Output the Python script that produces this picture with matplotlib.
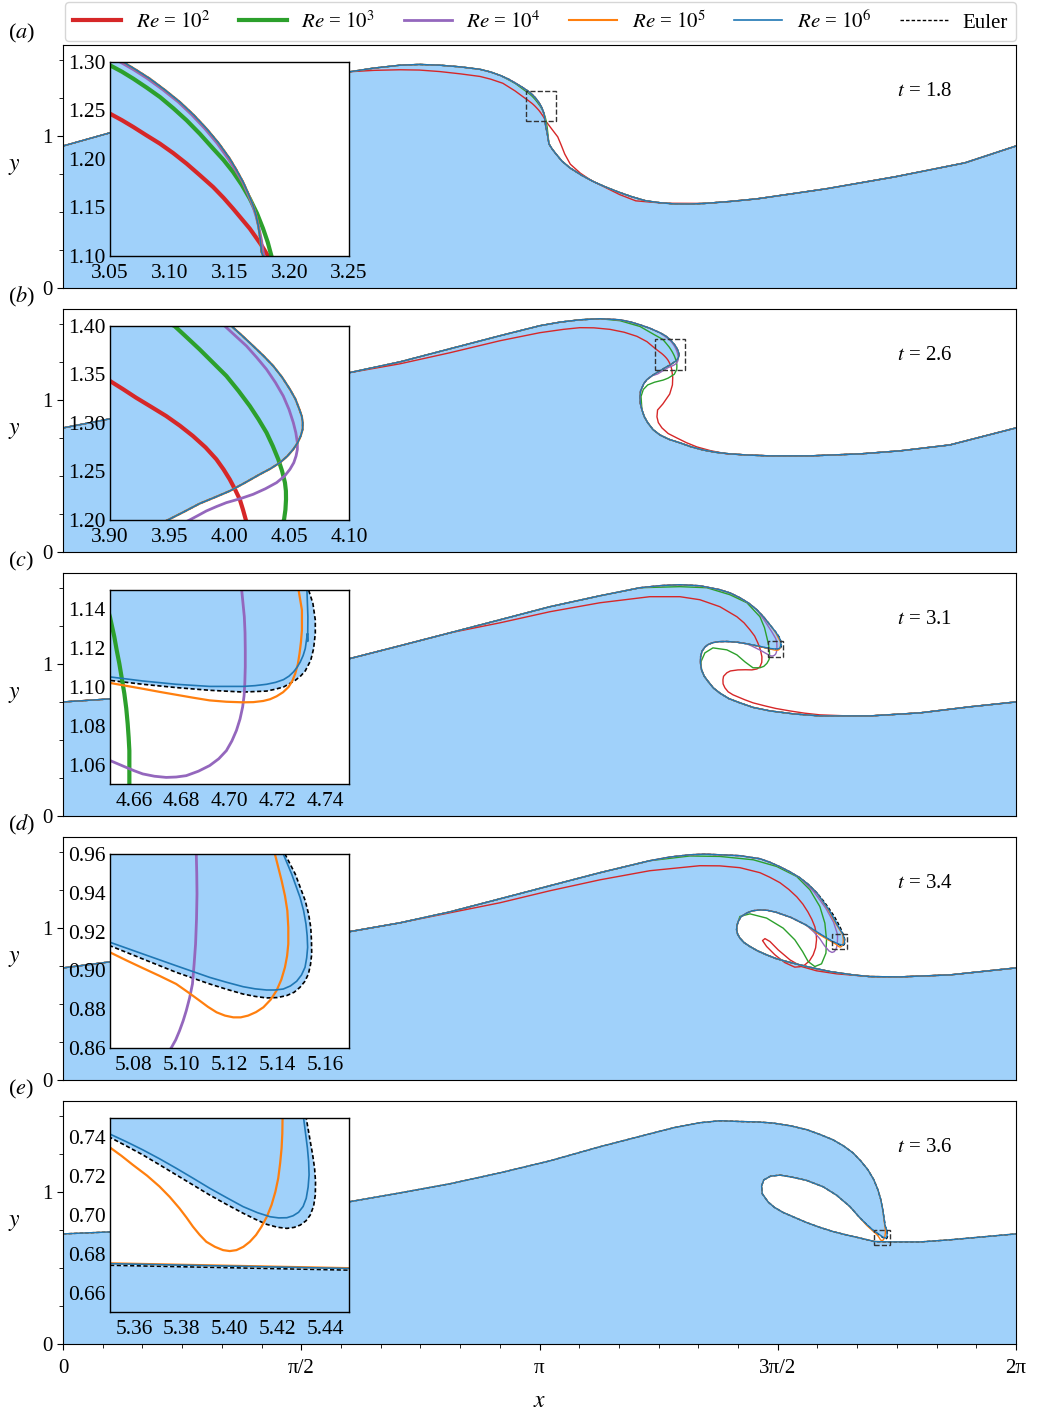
import numpy as np
import matplotlib
matplotlib.use("Agg")
import matplotlib.pyplot as plt
from matplotlib.lines import Line2D
from matplotlib.patches import Rectangle
from matplotlib.ticker import FixedLocator, MultipleLocator

plt.rcParams['font.family'] = ['Liberation Serif', 'DejaVu Serif']
plt.rcParams['mathtext.fontset'] = 'stix'

# ---------------- data ----------------
times = [1.8, 2.6, 3.1, 3.4, 3.6]
panel_tags = ['a', 'b', 'c', 'd', 'e']
re_labels = [r'$Re$ = $10^2$', r'$Re$ = $10^3$', r'$Re$ = $10^4$', r'$Re$ = $10^5$', r'$Re$ = $10^6$', 'Euler']
x_tick_labels = ['0', 'π/2', 'π', '3π/2', '2π']

# panel (a), t = 1.8
a_euler_x = [0.000, 0.310, 0.903, 1.562, 1.892, 2.050, 2.222, 2.350, 2.485, 2.620, 2.749, 2.820, 2.887, 2.940,
             2.980, 3.020, 3.0611, 3.072, 3.0834, 3.096, 3.1085, 3.120, 3.1308, 3.141, 3.1503, 3.156, 3.1614,
             3.1658, 3.1698, 3.1722, 3.1740, 3.1756, 3.1768, 3.1781,
             3.183, 3.191, 3.204, 3.225, 3.250, 3.290, 3.342, 3.420, 3.500, 3.580, 3.659, 3.750, 3.843, 3.940,
             4.028, 4.130, 4.232, 4.400, 4.575, 5.030, 5.485, 5.946, 6.283]
a_euler_y = [0.935, 1.022, 1.173, 1.338, 1.424, 1.448, 1.467, 1.472, 1.467, 1.456, 1.440, 1.422, 1.398, 1.374,
             1.350, 1.327, 1.300, 1.2918, 1.2828, 1.2712, 1.2588, 1.2455, 1.2313, 1.2163, 1.2003, 1.1885, 1.1763,
             1.1643, 1.1522, 1.142, 1.1316, 1.118, 1.1041, 1.100,
             1.060, 1.028, 0.949, 0.915, 0.883, 0.835, 0.791, 0.742, 0.699, 0.664, 0.633, 0.601, 0.574, 0.561,
             0.554, 0.553, 0.557, 0.570, 0.587, 0.653, 0.732, 0.824, 0.935]
a_purple_x = [2.887, 2.980, 3.0584, 3.0695, 3.0806, 3.094, 3.1071, 3.1185, 3.1294, 3.1396, 3.1489, 3.155,
              3.1609, 3.1656, 3.1698, 3.1726, 3.1748, 3.1768, 3.1781, 3.179, 3.186, 3.191]
a_purple_y = [1.398, 1.353, 1.300, 1.2922, 1.2835, 1.2716, 1.2588, 1.2455, 1.2313, 1.2163, 1.2003, 1.1885,
              1.1763, 1.1635, 1.1505, 1.1395, 1.1282, 1.116, 1.1041, 1.100, 1.060, 1.028]
a_green_x = [2.887, 2.980, 3.050, 3.060, 3.0695, 3.0807, 3.0918, 3.103, 3.1141, 3.1253, 3.1363, 3.145, 3.1530,
             3.1603, 3.1670, 3.173, 3.1781, 3.182, 3.1851, 3.192, 3.204]
a_green_y = [1.398, 1.348, 1.2966, 1.290, 1.2828, 1.2736, 1.2639, 1.2523, 1.2399, 1.2258, 1.2107, 1.199, 1.1866,
             1.1733, 1.1591, 1.144, 1.1282, 1.1142, 1.100, 1.060, 0.949]
a_red_x = [1.892, 2.050, 2.222, 2.350, 2.485, 2.620, 2.749, 2.820, 2.900, 2.980, 3.050, 3.060, 3.0695, 3.080,
           3.0918, 3.103, 3.1141, 3.125, 3.1363, 3.145, 3.1530, 3.160, 3.1670, 3.172, 3.1768, 3.1823, 3.220,
           3.262, 3.285, 3.308, 3.345, 3.411, 3.480, 3.570, 3.670, 3.776, 3.880, 3.981, 4.232]
a_red_y = [1.424, 1.433, 1.437, 1.435, 1.425, 1.410, 1.393, 1.375, 1.348, 1.298, 1.2467, 1.240, 1.233, 1.2248,
           1.2158, 1.206, 1.1952, 1.1835, 1.1711, 1.160, 1.1488, 1.1385, 1.1282, 1.1195, 1.111, 1.100, 1.050,
           0.995, 0.940, 0.882, 0.815, 0.756, 0.710, 0.665, 0.615, 0.574, 0.565, 0.558, 0.557]

# panel (b), t = 2.6
b_euler_x = [0.000, 0.310, 0.903, 1.562, 1.885, 2.222, 2.551, 2.881, 3.144, 3.280, 3.408, 3.540, 3.672, 3.740,
             3.804, 3.870, 3.935, 3.970, 4.0016, 4.0108, 4.0198, 4.0284, 4.0366, 4.044, 4.0506, 4.0552, 4.0585,
             4.0605, 4.0613, 4.0612, 4.0596, 4.0570, 4.0534, 4.0484, 4.0422, 4.034, 4.0254, 4.0128, 4.0002,
             3.9876, 3.975, 3.9617, 3.9484, 3.910, 3.883, 3.850, 3.830, 3.808, 3.804, 3.806, 3.817, 3.833,
             3.856, 3.890, 3.935, 3.995, 4.067, 4.140, 4.219, 4.300, 4.397, 4.520, 4.661, 4.924, 5.254,
             5.518, 5.847, 6.283]
b_euler_y = [0.817, 0.877, 0.995, 1.121, 1.180, 1.252, 1.338, 1.424, 1.490, 1.514, 1.529, 1.536, 1.529, 1.515,
             1.496, 1.473, 1.444, 1.425, 1.400, 1.3898, 1.3794, 1.3693, 1.3588, 1.3472, 1.3347, 1.3246, 1.3141,
             1.307, 1.3004, 1.2935, 1.2866, 1.2796, 1.2729, 1.2658, 1.2591, 1.2527, 1.2471, 1.2383, 1.2299,
             1.2233, 1.2169, 1.2083, 1.200, 1.178, 1.160, 1.135, 1.110, 1.060, 1.022, 0.980, 0.936, 0.890,
             0.850, 0.806, 0.771, 0.742, 0.719, 0.693, 0.672, 0.657, 0.646, 0.638, 0.633, 0.633, 0.646,
             0.666, 0.705, 0.817]
b_purple_x = [3.935, 3.975, 3.996, 4.005, 4.0142, 4.0228, 4.031, 4.0384, 4.045, 4.0498, 4.0534, 4.0555, 4.0568,
              4.0568, 4.0557, 4.0538, 4.0506, 4.046, 4.0394, 4.030, 4.0198, 4.0088, 3.9974, 3.989, 3.9806,
              3.9736, 3.9666, 3.920, 3.883]
b_purple_y = [1.444, 1.415, 1.400, 1.3898, 1.3794, 1.3675, 1.3553, 1.3418, 1.3278, 1.314, 1.3004, 1.290, 1.2797,
              1.2728, 1.266, 1.2591, 1.2523, 1.2452, 1.2385, 1.2322, 1.2265, 1.2219, 1.2179, 1.2138, 1.2093,
              1.2046, 1.200, 1.172, 1.160]
b_green_x = [3.540, 3.672, 3.804, 3.900, 3.954, 3.9645, 3.975, 3.9862, 3.9974, 4.0076, 4.017, 4.0243, 4.031,
             4.0362, 4.0408, 4.044, 4.0464, 4.0472, 4.0473, 4.0468, 4.0456,
             4.030, 3.990, 3.957, 3.900, 3.855, 3.826, 3.811, 3.817]
b_green_y = [1.536, 1.523, 1.485, 1.430, 1.400, 1.388, 1.3759, 1.3622, 1.3485, 1.333, 1.3175, 1.3038, 1.290,
             1.2763, 1.2626, 1.2505, 1.2385, 1.230, 1.2213, 1.2106, 1.200,
             1.170, 1.145, 1.132, 1.118, 1.100, 1.070, 1.024, 0.936]
b_red_x = [1.885, 2.221, 2.551, 2.881, 3.144, 3.300, 3.408, 3.500, 3.606, 3.700, 3.784, 3.850, 3.900, 3.911,
           3.9218, 3.9344, 3.947, 3.9585, 3.9694, 3.980, 3.989, 3.995, 4.0002, 4.0046, 4.0086, 4.0113, 4.0137,
           4.020, 4.018, 4.000, 3.955, 3.935, 3.920, 3.916, 3.925, 3.949, 3.990, 4.047, 4.110, 4.179, 4.270,
           4.377, 4.500, 4.661]
b_red_y = [1.180, 1.239, 1.312, 1.391, 1.444, 1.466, 1.477, 1.476, 1.466, 1.447, 1.420, 1.385, 1.3433, 1.3348,
           1.3261, 1.3167, 1.3072, 1.2972, 1.2866, 1.2748, 1.2626, 1.2522, 1.2419, 1.2316, 1.2213, 1.2106, 1.200,
           1.150, 1.100, 1.040, 0.975, 0.952, 0.935, 0.890, 0.852, 0.817, 0.780, 0.751, 0.720, 0.692, 0.667,
           0.646, 0.640, 0.633]

# panel (c), t = 3.1
c_euler_x = [0.000, 0.310, 0.903, 1.562, 1.885, 2.222, 2.551, 2.881, 3.210, 3.540, 3.804, 3.940, 4.067, 4.199,
             4.331, 4.400, 4.463, 4.520, 4.575, 4.620, 4.661, 4.700, 4.724, 4.7331, 4.7349, 4.7359, 4.7359,
             4.7352, 4.7340, 4.7317, 4.7298, 4.7275, 4.7226, 4.7190, 4.7155, 4.7057, 4.6917, 4.6777, 4.6637,
             4.650, 4.600,
             4.507, 4.440, 4.375, 4.325, 4.287, 4.255, 4.232, 4.213, 4.204, 4.203, 4.210, 4.228, 4.254, 4.288,
             4.331, 4.390, 4.463, 4.550, 4.661, 4.820, 4.990, 5.320, 5.649, 5.979, 6.283]
c_euler_y = [0.751, 0.771, 0.844, 0.960, 1.035, 1.121, 1.206, 1.292, 1.378, 1.450, 1.503, 1.517, 1.523, 1.516,
             1.490, 1.468, 1.437, 1.402, 1.358, 1.310, 1.259, 1.210, 1.175, 1.150, 1.1431, 1.1345, 1.1276,
             1.1198, 1.1138, 1.1083, 1.1057, 1.1034, 1.100, 1.0988, 1.0979, 1.0974, 1.0983, 1.0997, 1.1014,
             1.1034, 1.115,
             1.134, 1.145, 1.149, 1.148, 1.142, 1.130, 1.112, 1.085, 1.050, 1.005, 0.962, 0.920, 0.885, 0.843,
             0.809, 0.773, 0.745, 0.715, 0.692, 0.672, 0.659, 0.659, 0.679, 0.719, 0.751]
c_blue_x = [4.661, 4.700, 4.723, 4.7324, 4.7328, 4.7327, 4.7326, 4.7317, 4.7308, 4.7296, 4.7283, 4.7268, 4.7249,
            4.7226, 4.7193, 4.7155, 4.7107, 4.7057, 4.6917, 4.6777, 4.6637, 4.650, 4.600, 4.507]
c_blue_y = [1.259, 1.210, 1.175, 1.150, 1.1362, 1.1235, 1.1276, 1.1198, 1.1162, 1.1129, 1.1102, 1.1078, 1.1056,
            1.1038, 1.1024, 1.1014, 1.1007, 1.1003, 1.1003, 1.1014, 1.1031, 1.1052, 1.116, 1.134]
c_orange_x = [4.661, 4.700, 4.718, 4.7289, 4.7303, 4.7303, 4.7299, 4.7293, 4.7286, 4.7275, 4.7263, 4.7247,
              4.7224, 4.7197, 4.7170, 4.7141, 4.7100, 4.7057, 4.6987, 4.6917, 4.6847, 4.6777, 4.6707, 4.6637,
              4.6568, 4.650, 4.600, 4.507]
c_orange_y = [1.259, 1.205, 1.170, 1.150, 1.1397, 1.1293, 1.1232, 1.1172, 1.1118, 1.1069, 1.1032, 1.100,
              1.0973, 1.0952, 1.0937, 1.0928, 1.0922, 1.0921, 1.0924, 1.0931, 1.0945, 1.0960, 1.0975, 1.0991,
              1.1006, 1.1021, 1.114, 1.134]
c_purple_x = [4.575, 4.630, 4.675, 4.698, 4.7051, 4.7062, 4.7065, 4.7066, 4.7066, 4.7064, 4.7061, 4.7055,
              4.7044, 4.7029, 4.7010, 4.6987, 4.6955, 4.6917, 4.6870, 4.6819, 4.6777, 4.6735, 4.6686, 4.6637,
              4.6602, 4.6567, 4.650, 4.600, 4.540, 4.507]
c_purple_y = [1.358, 1.280, 1.210, 1.170, 1.150, 1.1362, 1.128, 1.119, 1.1105, 1.1017, 1.0955, 1.0897,
              1.0835, 1.0776, 1.0722, 1.0672, 1.0630, 1.0595, 1.0566, 1.0543, 1.0536, 1.0534, 1.0540, 1.0552,
              1.0568, 1.0586, 1.0621, 1.090, 1.120, 1.134]
c_green_x = [3.804, 4.067, 4.245, 4.397, 4.509, 4.595, 4.625, 4.642, 4.650, 4.6518, 4.6528, 4.6539, 4.655,
             4.656, 4.6568, 4.6574, 4.6578, 4.6581, 4.6581, 4.655, 4.641, 4.620, 4.595, 4.549, 4.496, 4.443,
             4.377, 4.285, 4.232, 4.206, 4.210]
c_green_y = [1.503, 1.510, 1.503, 1.457, 1.404, 1.312, 1.240, 1.170, 1.136, 1.1259, 1.119, 1.1121, 1.104,
             1.0966, 1.089, 1.081, 1.074, 1.0672, 1.050, 1.030, 1.005, 0.985, 0.976, 0.976, 1.015, 1.061,
             1.094, 1.107, 1.074, 1.015, 0.962]
c_red_x = [2.551, 2.881, 3.210, 3.540, 3.869, 4.067, 4.199, 4.331, 4.443, 4.490, 4.529, 4.560, 4.581, 4.598,
           4.608, 4.607, 4.595, 4.575, 4.542, 4.500, 4.450, 4.400, 4.377, 4.355, 4.351, 4.352, 4.364, 4.385,
           4.417, 4.496, 4.550, 4.628, 4.700, 4.792, 4.890, 4.990, 5.150, 5.320]
c_red_y = [1.206, 1.272, 1.345, 1.404, 1.444, 1.444, 1.424, 1.378, 1.312, 1.272, 1.226, 1.185, 1.140, 1.095,
           1.048, 1.012, 0.982, 0.968, 0.962, 0.963, 0.962, 0.955, 0.943, 0.920, 0.897, 0.870, 0.844, 0.818,
           0.798, 0.765, 0.745, 0.725, 0.708, 0.692, 0.677, 0.666, 0.660, 0.659]

# panel (d), t = 3.4
d_euler_x = [0.000, 0.310, 0.903, 1.562, 1.885, 2.222, 2.551, 2.881, 3.210, 3.540, 3.869, 4.000, 4.133, 4.230,
             4.331, 4.463, 4.595, 4.660, 4.727, 4.790, 4.858, 4.915, 4.970, 5.015, 5.056, 5.085, 5.109, 5.128,
             5.1432, 5.1475, 5.1517, 5.1531, 5.1540, 5.1543, 5.1544, 5.1539, 5.1530, 5.1515, 5.1495, 5.1470,
             5.1439, 5.1400, 5.1355, 5.1307, 5.1257, 5.1187, 5.1117, 5.0977,
             5.0837, 5.070, 4.990, 4.900, 4.800, 4.700, 4.645, 4.595, 4.545, 4.507, 4.470, 4.452, 4.443,
             4.441, 4.448, 4.463, 4.490, 4.529, 4.580, 4.639, 4.700, 4.771, 4.903, 5.056, 5.209, 5.320,
             5.518, 5.847, 6.283]
d_euler_y = [0.738, 0.778, 0.857, 0.936, 0.976, 1.035, 1.107, 1.193, 1.279, 1.365, 1.444, 1.468, 1.483, 1.487,
             1.483, 1.477, 1.457, 1.434, 1.404, 1.372, 1.332, 1.287, 1.233, 1.178, 1.121, 1.078, 1.035, 0.997,
             0.960, 0.9497, 0.9359, 0.929, 0.9222, 0.9153, 0.9085, 0.9030, 0.8981, 0.8943, 0.8913, 0.8887,
             0.887, 0.8860, 0.8858, 0.8866, 0.8878, 0.8903, 0.893, 0.899,
             0.9059, 0.9127, 0.960, 1.020, 1.070, 1.105, 1.117, 1.120, 1.114, 1.099, 1.075, 1.044, 1.015,
             0.989, 0.960, 0.934, 0.905, 0.879, 0.850, 0.824, 0.800, 0.780, 0.747, 0.714, 0.692, 0.681,
             0.679, 0.692, 0.738]
d_blue_x = [4.970, 5.050, 5.100, 5.1425, 5.1460, 5.1495, 5.1510, 5.1520, 5.1525, 5.1527, 5.1523, 5.1516, 5.1501,
            5.1481, 5.1455, 5.1425, 5.1390, 5.1355, 5.1307, 5.1257, 5.1187, 5.1117, 5.0977, 5.0837, 5.070,
            4.990, 4.900]
d_blue_y = [1.233, 1.120, 1.030, 0.960, 0.9497, 0.9377, 0.9308, 0.9239, 0.9178, 0.9119, 0.9065, 0.9016, 0.8976,
            0.8944, 0.8920, 0.8904, 0.8899, 0.8899, 0.8905, 0.8916, 0.8939, 0.8964, 0.9024, 0.9085, 0.9145,
            0.963, 1.020]
d_orange_x = [4.970, 5.040, 5.095, 5.139, 5.1418, 5.1432, 5.1442, 5.1446, 5.1446, 5.1441, 5.1432, 5.1417,
              5.1397, 5.1372, 5.1342, 5.1311, 5.1278, 5.1247, 5.1216, 5.1181, 5.1146, 5.1110, 5.1075, 5.1027,
              5.0977, 5.0907, 5.0837, 5.0768, 5.070, 4.990, 4.900]
d_orange_y = [1.233, 1.130, 1.030, 0.960, 0.9463, 0.9385, 0.9308, 0.9222, 0.9136, 0.9075, 0.9016, 0.8953,
              0.8896, 0.8849, 0.881, 0.8785, 0.8767, 0.8758, 0.8758, 0.8767, 0.8784, 0.8812, 0.8844, 0.8887,
              0.893, 0.8972, 0.9012, 0.9052, 0.9093, 0.955, 1.020]
d_purple_x = [4.858, 4.950, 5.030, 5.080, 5.1061, 5.1063, 5.1064, 5.1062, 5.1058, 5.1052, 5.1045, 5.1033,
              5.1019, 5.1006, 5.0991, 5.0975, 5.0956, 5.085, 5.070, 5.050, 5.020, 4.990, 4.950, 4.900]
d_purple_y = [1.332, 1.240, 1.130, 1.040, 0.960, 0.950, 0.9394, 0.9265, 0.9136, 0.9033, 0.893, 0.8858,
              0.8792, 0.8740, 0.8689, 0.8642, 0.860, 0.845, 0.840, 0.850, 0.885, 0.930, 0.975, 1.020]
d_green_x = [3.869, 4.133, 4.331, 4.551, 4.705, 4.837, 4.924, 4.990, 5.023, 5.034, 5.030, 5.001, 4.957, 4.913,
             4.876, 4.825, 4.748, 4.639, 4.529, 4.463, 4.452]
d_green_y = [1.444, 1.475, 1.472, 1.450, 1.406, 1.340, 1.253, 1.142, 1.033, 0.923, 0.835, 0.765, 0.747, 0.780,
             0.846, 0.923, 1.000, 1.066, 1.094, 1.077, 1.044]
d_red_x = [2.222, 2.551, 2.881, 3.210, 3.540, 3.869, 4.199, 4.330, 4.463, 4.595, 4.660, 4.727, 4.785, 4.838,
           4.878, 4.911, 4.937, 4.957, 4.966, 4.968, 4.962, 4.946, 4.922, 4.891, 4.860, 4.825, 4.759, 4.694,
           4.639, 4.612, 4.628, 4.661, 4.715, 4.793, 4.869, 4.968, 5.100, 5.320]
d_red_y = [1.035, 1.101, 1.167, 1.246, 1.318, 1.378, 1.411, 1.410, 1.398, 1.365, 1.335, 1.299, 1.255, 1.206,
           1.158, 1.107, 1.058, 1.009, 0.965, 0.923, 0.870, 0.824, 0.785, 0.758, 0.746, 0.743, 0.773, 0.824,
           0.879, 0.918, 0.931, 0.912, 0.857, 0.791, 0.747, 0.719, 0.699, 0.681]

# panel (e), t = 3.6
e_euler_x = [0.000, 0.310, 0.903, 1.562, 1.885, 2.222, 2.551, 2.881, 3.210, 3.540, 3.869, 4.030, 4.199, 4.331,
             4.463, 4.580, 4.680, 4.800, 4.905, 4.990, 5.076, 5.145, 5.208, 5.260, 5.307, 5.345, 5.373, 5.392,
             5.405, 5.422, 5.4321, 5.4338, 5.4348, 5.4356, 5.4360, 5.4359, 5.4352, 5.4338, 5.4320, 5.4296,
             5.4270, 5.4240, 5.4200, 5.4155, 5.4108, 5.4057, 5.3987, 5.3917, 5.3847,
             5.3777, 5.3707, 5.3637, 5.3568, 5.350, 5.300, 5.250, 5.188, 5.100, 5.012, 4.900, 4.800, 4.727,
             4.665, 4.620, 4.606, 4.610, 4.649, 4.690, 4.748, 4.820, 4.902, 4.990, 5.078, 5.170, 5.254, 5.350,
             5.450, 5.650, 5.847, 6.283]
e_euler_y = [0.725, 0.738, 0.804, 0.890, 0.936, 0.995, 1.055, 1.127, 1.206, 1.299, 1.384, 1.425, 1.457, 1.470,
             1.465, 1.462, 1.455, 1.436, 1.411, 1.380, 1.345, 1.305, 1.259, 1.205, 1.147, 1.083, 1.015, 0.950,
             0.883, 0.773, 0.750, 0.7379, 0.731, 0.7241, 0.7172, 0.7103, 0.7046, 0.700, 0.6970, 0.6948,
             0.6936, 0.6931, 0.6937, 0.6952, 0.6978, 0.7009, 0.7055, 0.7103, 0.7155,
             0.7207, 0.7259, 0.731, 0.7356, 0.740, 0.785, 0.835, 0.905, 0.980, 1.035, 1.078, 1.100, 1.112,
             1.105, 1.080, 1.040, 0.990, 0.935, 0.900, 0.866, 0.835, 0.800, 0.768, 0.740, 0.717, 0.698, 0.6741,
             0.6716, 0.672, 0.686, 0.725]
e_blue_x = [5.405, 5.420, 5.431, 5.4326, 5.4331, 5.4333, 5.4329, 5.4321, 5.4308, 5.4289, 5.4266, 5.4240, 5.4206,
            5.4170, 5.4117, 5.4057, 5.3987, 5.3917, 5.3847, 5.3777, 5.3707, 5.3637, 5.3568, 5.350, 5.300, 5.250]
e_blue_y = [0.883, 0.780, 0.750, 0.7345, 0.7276, 0.7207, 0.7144, 0.7086, 0.7044, 0.7014, 0.6996, 0.6986, 0.6985,
            0.6991, 0.7012, 0.7043, 0.7090, 0.7138, 0.7190, 0.7241, 0.7290, 0.7336, 0.7378, 0.7417, 0.786, 0.835]
e_blue_floor_x = [5.254, 5.350, 5.450, 5.650]
e_blue_floor_y = [0.698, 0.6749, 0.6724, 0.672]
e_orange_x = [5.405, 5.415, 5.4222, 5.4221, 5.4218, 5.4212, 5.4204, 5.4192, 5.4176, 5.4157, 5.4134, 5.4111,
              5.4085, 5.4058, 5.4029, 5.4001, 5.3973, 5.3939, 5.3903, 5.3875, 5.3847, 5.3820, 5.3791, 5.3750,
              5.3707, 5.3655, 5.3595, 5.3548, 5.350, 5.300, 5.250]
e_orange_y = [0.883, 0.800, 0.750, 0.742, 0.7345, 0.7268, 0.719, 0.712, 0.7052, 0.6993, 0.694, 0.6897,
              0.6862, 0.6836, 0.6819, 0.6814, 0.6819, 0.6836, 0.6862, 0.6898, 0.694, 0.6987, 0.7034, 0.7093,
              0.7147, 0.7203, 0.7259, 0.7305, 0.7348, 0.780, 0.835]
e_orange_floor_x = [5.254, 5.350, 5.450, 5.650]
e_orange_floor_y = [0.698, 0.6751, 0.6726, 0.672]

# inset windows and ticks
inset_xlims = [(3.05, 3.25), (3.90, 4.10), (4.65, 4.75), (5.07, 5.17), (5.35, 5.45)]
inset_ylims = [(1.10, 1.30), (1.20, 1.40), (1.05, 1.15), (0.86, 0.96), (0.65, 0.75)]
inset_xticks = [[3.05, 3.10, 3.15, 3.20, 3.25], [3.90, 3.95, 4.00, 4.05, 4.10],
                [4.66, 4.68, 4.70, 4.72, 4.74], [5.08, 5.10, 5.12, 5.14, 5.16],
                [5.36, 5.38, 5.40, 5.42, 5.44]]
inset_yticks = [[1.10, 1.15, 1.20, 1.25, 1.30], [1.20, 1.25, 1.30, 1.35, 1.40],
                [1.06, 1.08, 1.10, 1.12, 1.14], [0.86, 0.88, 0.90, 0.92, 0.94, 0.96],
                [0.66, 0.68, 0.70, 0.72, 0.74]]

# ---------------- helpers ----------------
def splice(bx, by, dx, dy):
    """Replace the stretch of the base curve between the first and last point of the deviation."""
    bx, by = np.asarray(bx, float), np.asarray(by, float)
    i0 = int(np.argmin(np.hypot(bx - dx[0], by - dy[0])))
    rest = np.hypot(bx[i0 + 1:] - dx[-1], by[i0 + 1:] - dy[-1])
    i1 = i0 + 1 + int(np.argmin(rest))
    return np.r_[bx[:i0], dx, bx[i1 + 1:]], np.r_[by[:i0], dy, by[i1 + 1:]]

def build(ex, ey, devs):
    x, y = np.asarray(ex, float), np.asarray(ey, float)
    for dx, dy in (devs or []):
        x, y = splice(x, y, dx, dy)
    return x, y

RED, GREEN, PURPLE, ORANGE, BLUE = '#d62728', '#2ca02c', '#9467bd', '#ff7f0e', '#1f77b4'
FILL = '#a0d1fa'
DASH = (0, (2.5, 1.5))

def series_for(ex, ey, red=None, green=None, purple=None, orange=None, blue=None, has_low=True):
    out = [((np.asarray(ex), np.asarray(ey)), 'k', DASH, 1.2)]
    if has_low:
        out.append((build(ex, ey, red), RED, '-', 3.0))
        out.append((build(ex, ey, green), GREEN, '-', 3.0))
        out.append((build(ex, ey, purple), PURPLE, '-', 2.0))
    out.append((build(ex, ey, orange), ORANGE, '-', 1.6))
    out.append((build(ex, ey, blue), BLUE, '-', 1.2))
    return out

panels = [
    (a_euler_x, a_euler_y, series_for(a_euler_x, a_euler_y, red=[(a_red_x, a_red_y)],
                                      green=[(a_green_x, a_green_y)], purple=[(a_purple_x, a_purple_y)])),
    (b_euler_x, b_euler_y, series_for(b_euler_x, b_euler_y, red=[(b_red_x, b_red_y)],
                                      green=[(b_green_x, b_green_y)], purple=[(b_purple_x, b_purple_y)])),
    (c_euler_x, c_euler_y, series_for(c_euler_x, c_euler_y, red=[(c_red_x, c_red_y)],
                                      green=[(c_green_x, c_green_y)], purple=[(c_purple_x, c_purple_y)],
                                      orange=[(c_orange_x, c_orange_y)], blue=[(c_blue_x, c_blue_y)])),
    (d_euler_x, d_euler_y, series_for(d_euler_x, d_euler_y, red=[(d_red_x, d_red_y)],
                                      green=[(d_green_x, d_green_y)], purple=[(d_purple_x, d_purple_y)],
                                      orange=[(d_orange_x, d_orange_y)], blue=[(d_blue_x, d_blue_y)])),
    (e_euler_x, e_euler_y, series_for(e_euler_x, e_euler_y,
                                      orange=[(e_orange_x, e_orange_y), (e_orange_floor_x, e_orange_floor_y)],
                                      blue=[(e_blue_x, e_blue_y), (e_blue_floor_x, e_blue_floor_y)],
                                      has_low=False)),
]

# ---------------- figure ----------------
W, H = 1039, 1413
fig = plt.figure(figsize=(W / 100, H / 100), dpi=100)
left, width, height = 63 / W, 953 / W, 243 / H
bottoms_px = [288, 552, 816, 1080, 1344]
TWO_PI = 2 * np.pi

for k, (ex, ey, series) in enumerate(panels):
    ax = fig.add_axes([left, 1 - bottoms_px[k] / H, width, height])
    ax.set_xlim(0, TWO_PI)
    ax.set_ylim(0, 1.6)
    poly_x = np.r_[ex, TWO_PI, 0.0]
    poly_y = np.r_[ey, 0.0, 0.0]
    ax.fill(poly_x, poly_y, color=FILL, lw=0, zorder=1)
    for (sx, sy), col, ls, lw in series:
        ax.plot(sx, sy, color=col, ls=ls, lw=1.0, zorder=2)
    xl, yl = inset_xlims[k], inset_ylims[k]
    ax.add_patch(Rectangle((xl[0], yl[0]), xl[1] - xl[0], yl[1] - yl[0], fill=False,
                           ls='--', lw=1.0, ec='0.2', zorder=4))
    # axes styling
    ax.yaxis.set_major_locator(FixedLocator([0, 1]))
    ax.set_yticklabels(['0', '1'])
    ax.yaxis.set_minor_locator(MultipleLocator(0.25))
    ax.xaxis.set_major_locator(FixedLocator([0, np.pi / 2, np.pi, 1.5 * np.pi, TWO_PI]))
    ax.xaxis.set_minor_locator(MultipleLocator(np.pi / 12))
    ax.tick_params(axis='both', which='major', labelsize=15, length=4, direction='out')
    ax.tick_params(axis='both', which='minor', length=3, direction='out')
    if k < 4:
        ax.tick_params(axis='x', which='both', length=0, labelbottom=False)
    else:
        ax.set_xticklabels(x_tick_labels)
        ax.tick_params(axis='x', which='major', pad=7)
        ax.set_xlabel('$x$', fontsize=17, va='center')
        ax.xaxis.set_label_coords(0.5, -0.235)
    ax.set_ylabel('$y$', fontsize=17, rotation=0, va='center', ha='center')
    ax.yaxis.set_label_coords(-0.051, 0.5)
    ax.text(0.875, 0.81, '$t$ = %.1f' % times[k], transform=ax.transAxes, fontsize=15,
            ha='left', va='center')
    fig.text(8 / W, 1 - (bottoms_px[k] - 255) / H, '($%s$)' % panel_tags[k], fontsize=16,
             ha='left', va='center')

    # inset
    axi = ax.inset_axes([47 / 953, 32 / 243, 239 / 953, 194 / 243])
    axi.set_facecolor('white')
    axi.fill(poly_x, poly_y, color=FILL, lw=0, zorder=1)
    for (sx, sy), col, ls, lw in series:
        axi.plot(sx, sy, color=col, ls=ls, lw=lw, zorder=2)
    axi.set_xlim(*xl)
    axi.set_ylim(*yl)
    axi.set_xticks(inset_xticks[k])
    axi.set_yticks(inset_yticks[k])
    axi.set_xticklabels(['%.2f' % v for v in inset_xticks[k]])
    axi.set_yticklabels(['%.2f' % v for v in inset_yticks[k]])
    axi.tick_params(labelsize=15.5, length=0)
    axi.tick_params(axis='x', pad=6)
    axi.tick_params(axis='y', pad=3)
    for sp in axi.spines.values():
        sp.set_linewidth(1.0)

# legend
handles = [Line2D([], [], color=RED, lw=3), Line2D([], [], color=GREEN, lw=3),
           Line2D([], [], color=PURPLE, lw=2), Line2D([], [], color=ORANGE, lw=1.5),
           Line2D([], [], color=BLUE, lw=1.2), Line2D([], [], color='k', lw=1, ls=DASH)]
fig.legend(handles, re_labels, loc='center', ncol=6, mode='expand',
           bbox_to_anchor=(65 / W, 1 - 40 / H, (1016 - 65) / W, 37 / H),
           fontsize=15, handlelength=2.3, handletextpad=0.7, borderaxespad=0, frameon=True)

fig.savefig('out.png', dpi=100)
